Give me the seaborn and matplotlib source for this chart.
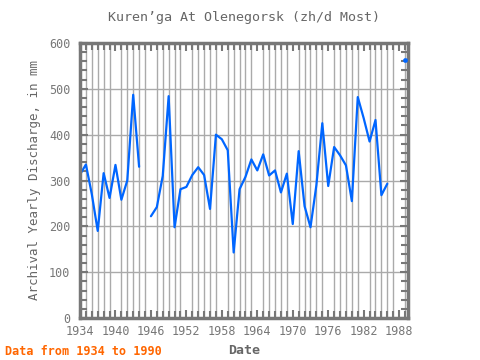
import numpy as np
import pandas as pd
import matplotlib
matplotlib.use("Agg")
import matplotlib.pyplot as plt
import seaborn as sns

years = list(range(1934, 1990))
discharge = [313, 335, 270, 190, 316, 262, 334, 258, 300, 487,
             330, np.nan, 222, 242, 310, 484, 198, 281, 286, 312,
             329, 312, 238, 400, 390, 366, 143, 281, 308, 346,
             322, 357, 311, 322, 274, 315, 205, 364, 244, 198,
             290, 425, 288, 373, 355, 333, 255, 482, 436, 385,
             432, 268, 293, np.nan, np.nan, 563]
xticks = list(range(1934, 1989, 6))
yticks = list(range(0, 601, 100))

df = pd.DataFrame({"year": years, "value": discharge})
# split into runs so gaps stay gaps
df["segment"] = df["value"].isna().cumsum()
df = df.dropna()
counts = df["segment"].value_counts()
lines = df[df["segment"].map(counts) > 1]
single = df[df["segment"].map(counts) == 1]

sns.set_style("white")
plt.rcParams["font.family"] = ["DejaVu Sans Mono"]

fig = plt.figure(figsize=(4.8, 3.6), dpi=100)
ax = fig.add_axes([80 / 480, 42 / 360, 328 / 480, 275 / 360])

blue = "#0066ff"
sns.lineplot(data=lines, x="year", y="value", units="segment", estimator=None,
             color=blue, lw=1.6, ax=ax)
sns.scatterplot(data=single, x="year", y="value", color=blue, s=10,
                edgecolor=blue, ax=ax, zorder=5, clip_on=False)

ax.set_xlim(1934, 1989.5)
ax.set_ylim(0, 600)
ax.set_xticks(xticks)
ax.set_yticks(yticks)
ax.set_xticks(range(1934, 1990), minor=True)
ax.set_yticks(range(0, 601, 20), minor=True)
ax.grid(True, which="major", axis="y", color="#aaaaaa", lw=1)
ax.grid(True, which="minor", axis="x", color="#aaaaaa", lw=1)
ax.set_axisbelow(True)
ax.tick_params(which="both", direction="in", color="#777777",
               top=True, right=True, bottom=True, left=True)
ax.tick_params(which="major", length=6, width=1.5, labelsize=8.5,
               labelcolor="#777777")
ax.tick_params(axis="y", which="major", pad=7)
ax.tick_params(axis="x", which="major", pad=5)
ax.tick_params(which="minor", length=5, width=1.5)
for s in ax.spines.values():
    s.set_color("#777777")
    s.set_linewidth(2.5)

gray = "#666666"
ax.set_title("Kuren’ga At Olenegorsk (zh/d Most)", fontsize=9.6,
             color=gray, pad=16)
ax.set_xlabel("Date", fontsize=9.5, color=gray, fontweight="bold", labelpad=4)
ax.set_ylabel("Archival Yearly Discharge, in mm", fontsize=9, color=gray,
              labelpad=6)
fig.text(5 / 480, 2 / 360, "Data from 1934 to 1990", fontsize=8.5,
         color="#ff6600", fontweight="bold", ha="left", va="bottom")

fig.savefig("out.png", dpi=100)
